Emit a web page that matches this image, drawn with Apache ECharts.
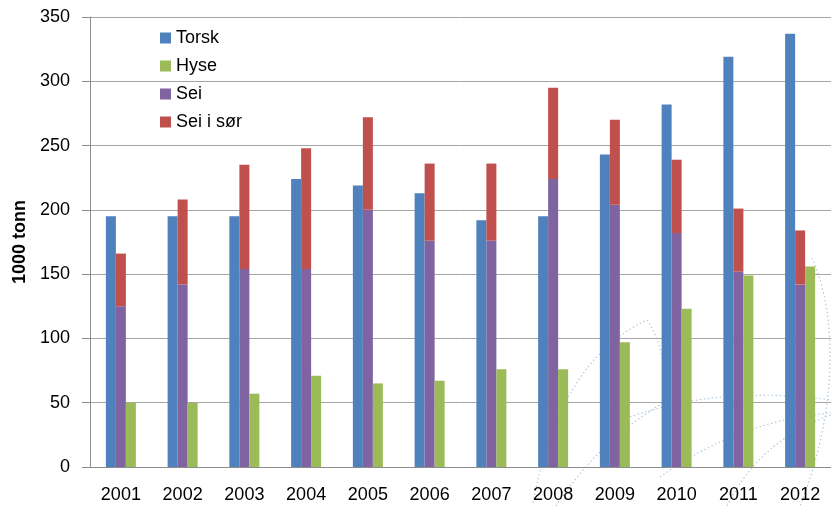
<!DOCTYPE html>
<html>
<head>
<meta charset="utf-8">
<script src="https://cdn.jsdelivr.net/npm/echarts@6/dist/echarts.min.js"></script>
<style>
  html, body { margin: 0; padding: 0; background: #fff; }
  #chart { width: 831px; height: 506px; }
</style>
</head>
<body>
<div id="chart"></div>
<script>
// år
const years = ['2001', '2002', '2003', '2004', '2005', '2006', '2007', '2008', '2009', '2010', '2011', '2012']
// 1000 tonn
const torsk = [195, 195, 195, 224, 219, 213, 192, 195, 243, 282, 319, 337]
const hyse = [50, 50, 57, 71, 65, 67, 76, 76, 97, 123, 149, 156]
const sei = [125, 142, 154, 154, 200, 176, 176, 224, 204, 182, 152, 142]
const seiSor = [41, 66, 81, 94, 72, 60, 60, 71, 66, 57, 49, 42]
const legendNames = ['Torsk', 'Hyse', 'Sei', 'Sei i sør']

const chart = echarts.init(document.getElementById('chart'))
const font = 'Liberation Sans, Arial, sans-serif'

// svak bakgrunnsdekor (prikkete buer nede til høyre)
const decoStyle = { stroke: '#b4cadb', lineWidth: 1.2, lineDash: [1.5, 2.5], fill: null }
const decoCurves = [
  { x1: 533, y1: 503, cpx1: 560, cpy1: 360, x2: 647, y2: 320 },
  { x1: 647, y1: 320, cpx1: 668, cpy1: 350, x2: 663, y2: 403 },
  { x1: 556, y1: 506, cpx1: 600, cpy1: 440, x2: 663, y2: 403 },
  { x1: 630, y1: 417, cpx1: 720, cpy1: 385, x2: 831, y2: 400 },
  { x1: 660, y1: 477, cpx1: 740, cpy1: 420, x2: 831, y2: 413 },
  { x1: 727, y1: 506, cpx1: 760, cpy1: 440, x2: 831, y2: 415 },
  { x1: 812, y1: 258, cpx1: 840, cpy1: 320, cpx2: 835, cpy2: 420, x2: 800, y2: 506 }
]

const options = {
  animation: false,
  color: ['#4F81BD', '#8064A2', '#C0504D', '#9BBB59'],
  textStyle: { fontFamily: font },
  graphic: decoCurves.map(c => ({
    type: 'bezierCurve',
    z: -1,
    silent: true,
    shape: c,
    style: decoStyle
  })),
  grid: {
    left: 90,
    right: -7,
    top: 17,
    bottom: 39
  },
  legend: {
    orient: 'vertical',
    left: 155,
    top: 24,
    itemWidth: 11,
    itemHeight: 11,
    itemGap: 10,
    icon: 'rect',
    textStyle: { fontSize: 18, color: '#000', lineHeight: 18 },
    data: legendNames
  },
  xAxis: {
    type: 'category',
    data: years,
    axisLine: { lineStyle: { color: '#8c8c8c' } },
    axisTick: { length: 6, lineStyle: { color: '#8c8c8c' } },
    axisLabel: { fontSize: 18, color: '#000', margin: 19 }
  },
  yAxis: {
    type: 'value',
    min: 0,
    max: 350,
    interval: 50,
    name: '1000 tonn',
    nameLocation: 'middle',
    nameGap: 53,
    nameTextStyle: { fontSize: 18, fontWeight: 'bold', color: '#000' },
    axisLine: { show: true, lineStyle: { color: '#8c8c8c' } },
    axisTick: { show: true, length: 8, lineStyle: { color: '#8c8c8c' } },
    axisLabel: { fontSize: 18, color: '#000', margin: 20 },
    splitLine: { lineStyle: { color: '#a6a6a6' } }
  },
  series: [
    { name: 'Torsk', type: 'bar', data: torsk, barWidth: 10, barGap: '0%' },
    { name: 'Sei', type: 'bar', stack: 'sei', data: sei, barWidth: 10, barGap: '0%' },
    { name: 'Sei i sør', type: 'bar', stack: 'sei', data: seiSor, barWidth: 10, barGap: '0%' },
    { name: 'Hyse', type: 'bar', data: hyse, barWidth: 10, barGap: '0%' }
  ]
}
chart.setOption(options)
</script>
</body>
</html>
